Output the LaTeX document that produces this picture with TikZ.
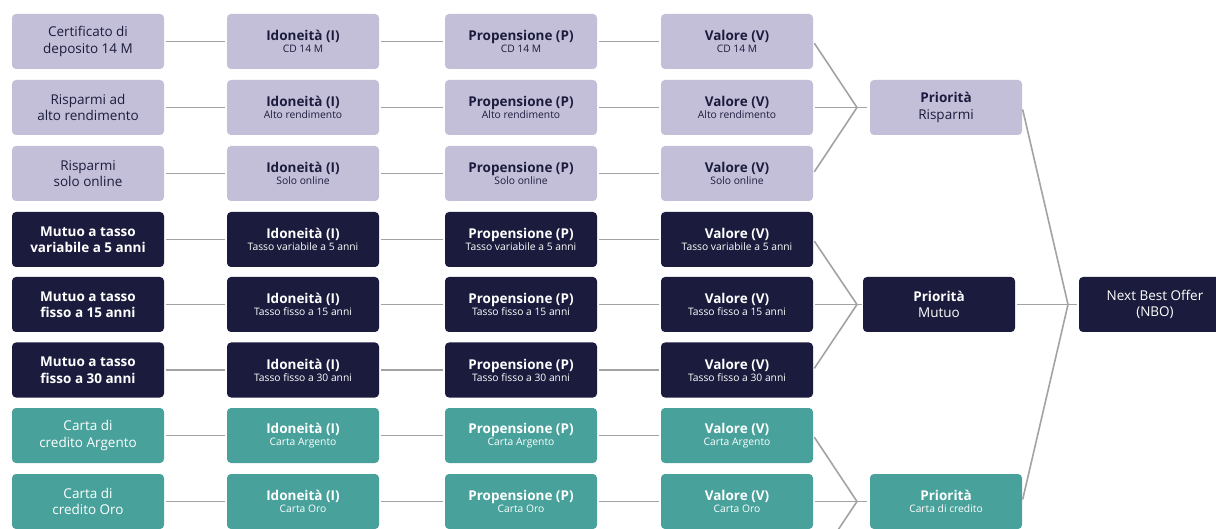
\documentclass[tikz,border=0pt]{standalone}
\usepackage{fontspec}
\setmainfont{Open Sans}

\definecolor{lav}{HTML}{C3BFD8}
\definecolor{navy}{HTML}{1B1C3D}
\definecolor{teal}{HTML}{48A29B}
\definecolor{lineg}{HTML}{A3A3A3}

% two-line stage label: bold title over a small subtitle
\newcommand\stg[2]{{\bfseries #1}\\[-4.5pt]{\fontsize{10.3}{12}\selectfont #2}}

\tikzset{
  box/.style={rounded corners=4pt, minimum width=152pt, minimum height=55pt,
              inner sep=0pt, align=center,
              font=\fontsize{13.5}{16.5}\selectfont},
  sav/.style={box, fill=lav, text=navy},
  mut/.style={box, fill=navy, text=white},
  car/.style={box, fill=teal, text=white},
  link/.style={draw=lineg, line width=1.6pt},
  hop/.style={link, shorten <=2pt, shorten >=2pt}
}

\begin{document}
\begin{tikzpicture}[x=1pt, y=-1pt]
\clip (0,0) rectangle (1216,529);
\fill[white] (0,0) rectangle (1216,529);

% ---- savings products ----
\node[sav] (s1) at (88,41.5)  {Certificato di\\deposito 14 M};
\node[sav] (s2) at (88,107.5) {Risparmi ad\\alto rendimento};
\node[sav] (s3) at (88,173.5) {Risparmi\\solo online};
\node[sav] (si1) at (303,41.5)  {\stg{Idoneità (I)}{CD 14 M}};
\node[sav] (si2) at (303,107.5) {\stg{Idoneità (I)}{Alto rendimento}};
\node[sav] (si3) at (303,173.5) {\stg{Idoneità (I)}{Solo online}};
\node[sav] (sp1) at (521,41.5)  {\stg{Propensione (P)}{CD 14 M}};
\node[sav] (sp2) at (521,107.5) {\stg{Propensione (P)}{Alto rendimento}};
\node[sav] (sp3) at (521,173.5) {\stg{Propensione (P)}{Solo online}};
\node[sav] (sv1) at (737,41.5)  {\stg{Valore (V)}{CD 14 M}};
\node[sav] (sv2) at (737,107.5) {\stg{Valore (V)}{Alto rendimento}};
\node[sav] (sv3) at (737,173.5) {\stg{Valore (V)}{Solo online}};

% ---- mortgages ----
\node[mut] (m1) at (88,239.5) {\bfseries Mutuo a tasso\\\bfseries variabile a 5 anni};
\node[mut] (m2) at (88,304.5) {\bfseries Mutuo a tasso\\\bfseries fisso a 15 anni};
\node[mut] (m3) at (88,370)   {\bfseries Mutuo a tasso\\\bfseries fisso a 30 anni};
\node[mut] (mi1) at (303,239.5) {\stg{Idoneità (I)}{Tasso variabile a 5 anni}};
\node[mut] (mi2) at (303,304.5) {\stg{Idoneità (I)}{Tasso fisso a 15 anni}};
\node[mut] (mi3) at (303,370)   {\stg{Idoneità (I)}{Tasso fisso a 30 anni}};
\node[mut] (mp1) at (521,239.5) {\stg{Propensione (P)}{Tasso variabile a 5 anni}};
\node[mut] (mp2) at (521,304.5) {\stg{Propensione (P)}{Tasso fisso a 15 anni}};
\node[mut] (mp3) at (521,370)   {\stg{Propensione (P)}{Tasso fisso a 30 anni}};
\node[mut] (mv1) at (737,239.5) {\stg{Valore (V)}{Tasso variabile a 5 anni}};
\node[mut] (mv2) at (737,304.5) {\stg{Valore (V)}{Tasso fisso a 15 anni}};
\node[mut] (mv3) at (737,370)   {\stg{Valore (V)}{Tasso fisso a 30 anni}};

% ---- credit cards ----
\node[car] (c1) at (88,435.5) {Carta di\\credito Argento};
\node[car] (c2) at (88,501.5) {Carta di\\credito Oro};
\node[car] (ci1) at (303,435.5) {\stg{Idoneità (I)}{Carta Argento}};
\node[car] (ci2) at (303,501.5) {\stg{Idoneità (I)}{Carta Oro}};
\node[car] (cp1) at (521,435.5) {\stg{Propensione (P)}{Carta Argento}};
\node[car] (cp2) at (521,501.5) {\stg{Propensione (P)}{Carta Oro}};
\node[car] (cv1) at (737,435.5) {\stg{Valore (V)}{Carta Argento}};
\node[car] (cv2) at (737,501.5) {\stg{Valore (V)}{Carta Oro}};

% ---- priorities and final offer ----
\node[sav] (pr) at (946,107.5) {\textbf{Priorità}\\Risparmi};
\node[mut] (pm) at (939,304.5) {\textbf{Priorità}\\Mutuo};
\node[car] (pc) at (946,501.5) {\stg{Priorità}{Carta di credito}};
\node[mut] (nbo) at (1155,304.5) {Next Best Offer\\(NBO)};

% merge points
\coordinate (jr) at (857,107.5);
\coordinate (jm) at (857,304.5);
\coordinate (jc) at (857,501.5);
\coordinate (jn) at (1068,304.5);
\coordinate (cv3) at (814,566);

% ---- chains along each row ----
\foreach \a/\b/\c/\d in {s1/si1/sp1/sv1, s2/si2/sp2/sv2, s3/si3/sp3/sv3,
                          m1/mi1/mp1/mv1, m2/mi2/mp2/mv2, m3/mi3/mp3/mv3,
                          c1/ci1/cp1/cv1, c2/ci2/cp2/cv2}{
  \draw[hop] (\a) -- (\b);
  \draw[hop] (\b) -- (\c);
  \draw[hop] (\c) -- (\d);
}

% ---- fan-in to the priorities ----
\foreach \v in {sv1,sv2,sv3}{\draw[link, shorten <=2pt] (\v.east) -- (jr);}
\draw[link, shorten >=3pt] (jr) -- (pr.west);
\foreach \v in {mv1,mv2,mv3}{\draw[link, shorten <=2pt] (\v.east) -- (jm);}
\draw[link, shorten >=1pt] (jm) -- (pm.west);
\foreach \v in {cv1,cv2}{\draw[link, shorten <=2pt] (\v.east) -- (jc);}
\draw[link] (cv3) -- (jc);
\draw[link, shorten >=3pt] (jc) -- (pc.west);

% ---- fan-in to the next best offer ----
\draw[link, shorten <=2pt] (pr.east) -- (jn);
\draw[link, shorten <=2pt] (pm.east) -- (jn);
\draw[link, shorten <=2pt] (pc.east) -- (jn);
\draw[link, shorten >=2pt] (jn) -- (nbo.west);
\end{tikzpicture}
\end{document}
